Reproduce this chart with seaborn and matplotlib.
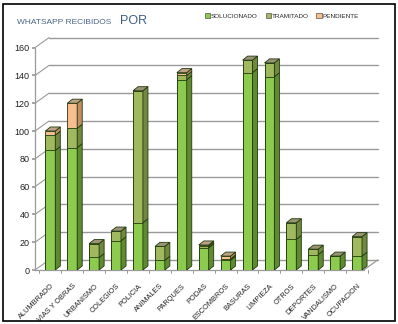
import numpy as np
import pandas as pd
import matplotlib
matplotlib.use("Agg")
import matplotlib.pyplot as plt
from matplotlib.patches import Polygon, Rectangle, Patch
import seaborn as sns

categories = ["ALUMBRADO", "VIAS Y OBRAS", "URBANISMO", "COLEGIOS", "POLICIA",
              "ANIMALES", "PARQUES", "PODAS", "ESCOMBROS", "BASURAS",
              "LIMPIEZA", "OTROS", "DEPORTES", "VANDALISMO", "OCUPACION"]
solucionado = [86, 88, 9, 21, 34, 7, 137, 16, 7, 142, 139, 22, 11, 10, 10]
tramitado = [11, 14, 10, 7, 95, 10, 3, 1, 1, 9, 10, 12, 4, 0, 14]
pendiente = [3, 18, 0, 0, 0, 0, 2, 1, 2, 0, 0, 0, 0, 0, 0]
series_names = ["SOLUCIONADO", "TRAMITADO", "PENDIENTE"]
yticks = [0, 20, 40, 60, 80, 100, 120, 140, 160]

front_cols = ["#8CCB4E", "#A0B95E", "#F9BE8E"]
side_cols = ["#5F8A32", "#72873F", "#C28E64"]
top_cols = ["#9A9474", "#9A9474", "#BFA084"]
edge = "#1F3A0C"

sns.set_theme(style="white")
plt.rcParams["font.family"] = ["Liberation Sans", "DejaVu Sans"]

fig = plt.figure(figsize=(3.98, 3.24), dpi=100)
ax = fig.add_axes([35 / 398, 54 / 324, 344 / 398, 233.5 / 324])

sol = np.array(solucionado, float)
tra = np.array(tramitado, float)
pen = np.array(pendiente, float)
layers = [sol, sol + tra, sol + tra + pen]

df = pd.DataFrame({"cat": categories, "l0": layers[0], "l1": layers[1], "l2": layers[2]})
bw = 0.45
for k in [2, 1, 0]:
    sns.barplot(data=df, x="cat", y=f"l{k}", order=categories, color=front_cols[k],
                saturation=1, width=bw, edgecolor=edge, linewidth=0.6, ax=ax, zorder=3)

geo = [(p.get_x(), p.get_width()) for p in ax.patches[-len(categories):]]

# depth offsets in data units
dx, dy = 0.23, 2.9
wall_dx, wall_dy = 0.64, 7.2

for i, (x0, w) in enumerate(geo):
    x1 = x0 + w
    bounds = [0, layers[0][i], layers[1][i], layers[2][i]]
    top_k = 0
    for k in range(3):
        y0, y1 = bounds[k], bounds[k + 1]
        if y1 - y0 <= 0:
            continue
        top_k = k
        ax.add_patch(Polygon([(x1, y0), (x1 + dx, y0 + dy), (x1 + dx, y1 + dy), (x1, y1)],
                             closed=True, facecolor=side_cols[k], edgecolor=edge,
                             lw=0.6, zorder=3))
    tp = bounds[3]
    ax.add_patch(Polygon([(x0, tp), (x1, tp), (x1 + dx, tp + dy), (x0 + dx, tp + dy)],
                         closed=True, facecolor=top_cols[top_k], edgecolor=edge,
                         lw=0.6, zorder=3))

xl, xr = -0.7, 15.0
front_end = 14.3
gc = "#9A9A9A"
for v in yticks:
    ax.plot([xl + wall_dx, front_end + wall_dx], [v + wall_dy, v + wall_dy], color=gc,
            lw=1.0, zorder=1, clip_on=False)
    ax.plot([xl, xl + wall_dx], [v, v + wall_dy], color=gc, lw=0.8, zorder=1, clip_on=False)
ax.plot([xl, xl], [0, yticks[-1]], color=gc, lw=0.9, zorder=1, clip_on=False)
ax.plot([xl, front_end], [0, 0], color=gc, lw=0.9, zorder=1, clip_on=False)
ax.plot([front_end, front_end + wall_dx], [0, wall_dy], color=gc, lw=0.9, zorder=1, clip_on=False)
for i in range(len(categories) + 1):
    xb = i - 0.5
    ax.plot([xb, xb], [0, -2.5], color=gc, lw=0.7, clip_on=False)

ax.set_xlim(xl, xr)
ax.set_ylim(0, 168)
ax.set_yticks(yticks)
ax.set_yticklabels([str(v) for v in yticks], fontsize=6.5, color="#222222")
ax.tick_params(axis="y", length=2, pad=2, left=True, color=gc)
ax.set_xticks(range(len(categories)))
ax.set_xticklabels(categories, rotation=45, ha="right", rotation_mode="anchor",
                   fontsize=5.3, color="#222222")
ax.tick_params(axis="x", length=0, pad=9)
ax.set_xlabel("")
ax.set_ylabel("")
for s in ax.spines.values():
    s.set_visible(False)
ax.patch.set_alpha(0)

fig.text(17 / 398, 1 - 22 / 324, "WHATSAPP RECIBIDOS", fontsize=6.0, color="#4A6688",
         va="center", ha="left")
fig.text(120 / 398, 1 - 21 / 324, "POR", fontsize=9, color="#3E5F86",
         va="center", ha="left")

handles = [Patch(facecolor=front_cols[k], edgecolor="#555555", lw=0.5) for k in range(3)]
fig.legend(handles, series_names, loc="center", bbox_to_anchor=(282 / 398, 1 - 16 / 324),
           ncol=3, frameon=False, fontsize=4.6, handlelength=0.8, handleheight=0.8,
           handletextpad=0.2, columnspacing=1.2)

fig.add_artist(Rectangle((3 / 398, 3 / 324), 392 / 398, 317 / 324, transform=fig.transFigure,
                         fill=False, edgecolor="black", lw=1.2))

fig.savefig("out.png", dpi=100)
